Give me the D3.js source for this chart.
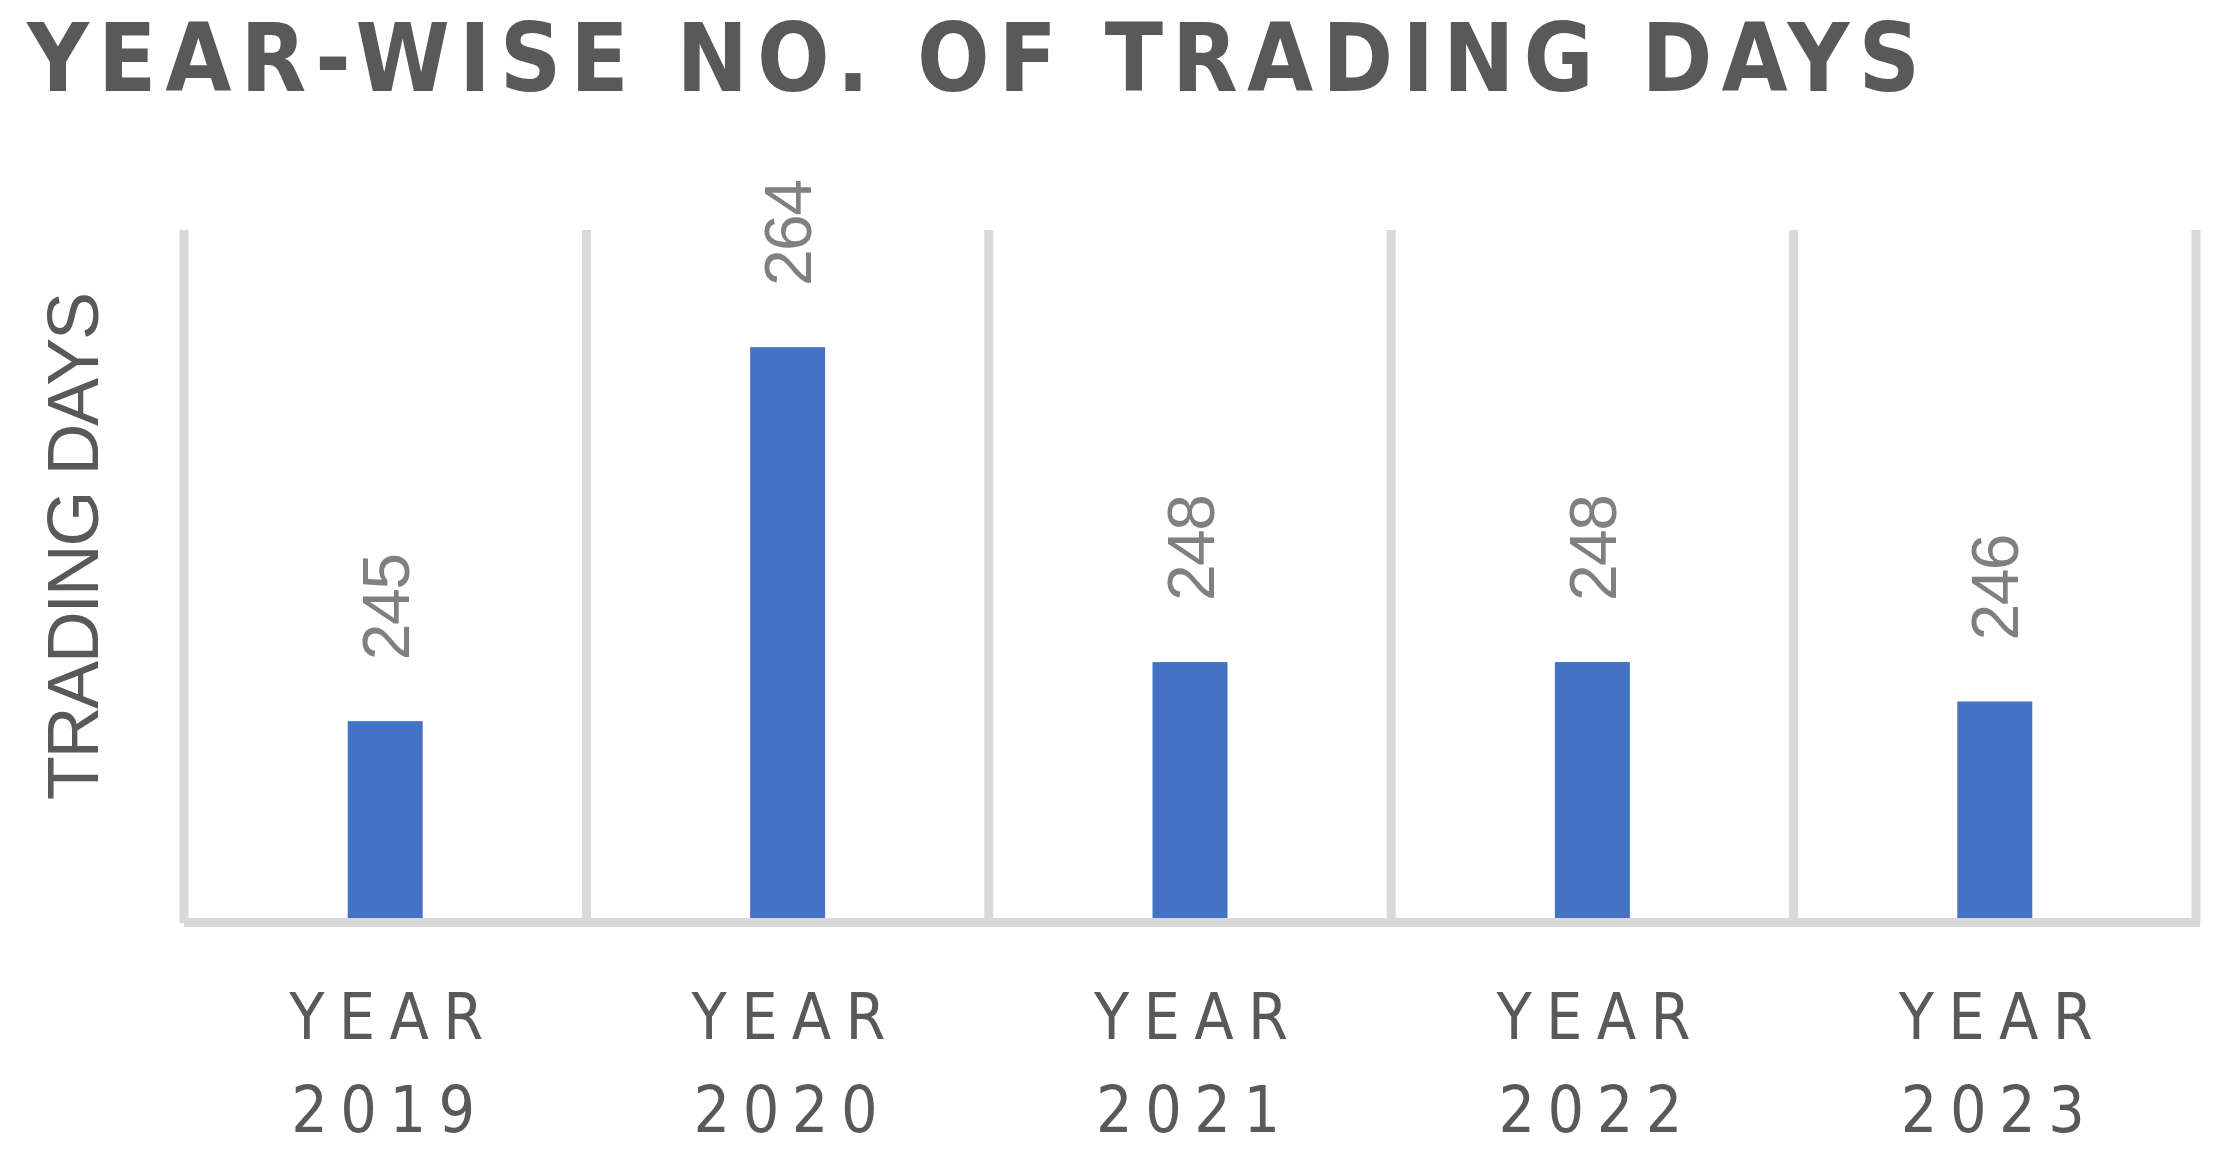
<!DOCTYPE html>
<html>
<head>
<meta charset="utf-8">
<script src="https://cdn.jsdelivr.net/npm/d3@7"></script>
<style>
  body { margin: 0; background: #fff; }
  svg { display: block; }
  .narrow { font-family: 'DejaVu Sans Condensed', 'DejaVu Sans', sans-serif; font-stretch: condensed; }
</style>
</head>
<body>
<script>
//chart data
var years = ["2019", "2020", "2021", "2022", "2023"];
var tradingDays = [245, 264, 248, 248, 246];
var yDomain = [235, 270];

//frame dimensions
var width = 2226,
    height = 1149;

var svg = d3.select("body")
    .append("svg")
    .attr("width", width)
    .attr("height", height);

//category and value scales
var x = d3.scaleBand()
    .domain(years)
    .range([184, 2196]);

var y = d3.scaleLinear()
    .domain(yDomain)
    .range([918, 229]);

var barWidth = 75,
    grey = "#595959",
    gridGrey = "#d9d9d9";

//title
svg.append("text")
    .attr("class", "narrow")
    .attr("x", 27)
    .attr("y", 91)
    .attr("textLength", 1893)
    .attr("lengthAdjust", "spacing")
    .style("font-weight", "bold")
    .style("font-size", "95px")
    .style("fill", grey)
    .text("YEAR-WISE NO. OF TRADING DAYS");

//vertical gridlines on category boundaries
var bounds = years.map(function(d){ return x(d); }).concat([x.range()[1]]);
svg.selectAll(".grid")
    .data(bounds)
    .enter()
    .append("line")
    .attr("class", "grid")
    .attr("x1", function(d){ return d; })
    .attr("x2", function(d){ return d; })
    .attr("y1", y(yDomain[1]) + 1)
    .attr("y2", 923)
    .style("stroke", gridGrey)
    .style("stroke-width", 9);

//bars
svg.selectAll(".bar")
    .data(tradingDays)
    .enter()
    .append("rect")
    .attr("class", "bar")
    .attr("x", function(d, i){ return x(years[i]) + x.bandwidth() / 2 - barWidth / 2; })
    .attr("y", function(d){ return y(d); })
    .attr("width", barWidth)
    .attr("height", function(d){ return y(yDomain[0]) - y(d); })
    .style("fill", "#4472c4");

//category axis line
svg.append("line")
    .attr("x1", x.range()[0])
    .attr("x2", x.range()[1] + 4)
    .attr("y1", 922.5)
    .attr("y2", 922.5)
    .style("stroke", gridGrey)
    .style("stroke-width", 9);

//value labels, rotated
svg.selectAll(".val")
    .data(tradingDays)
    .enter()
    .append("text")
    .attr("class", "val")
    .attr("transform", function(d, i){
        var cx = x(years[i]) + x.bandwidth() / 2 + 23.5;
        return "translate(" + cx + "," + (y(d) - 61) + ") rotate(-90)";
    })
    .attr("textLength", 107)
    .attr("lengthAdjust", "spacing")
    .style("font-family", "'Liberation Sans', sans-serif")
    .style("font-size", "66px")
    .style("fill", "#808080")
    .text(function(d){ return d; });

//category labels, two lines
var cats = svg.selectAll(".cat")
    .data(years)
    .enter()
    .append("g")
    .attr("class", "cat")
    .attr("transform", function(d){ return "translate(" + (x(d) + x.bandwidth() / 2) + ",0)"; });

cats.append("text")
    .attr("class", "narrow")
    .attr("x", -96)
    .attr("y", 1039)
    .attr("textLength", 194)
    .attr("lengthAdjust", "spacing")
    .style("font-size", "64px")
    .style("fill", grey)
    .text("YEAR");

cats.append("text")
    .attr("class", "narrow")
    .attr("x", -94)
    .attr("y", 1132)
    .attr("textLength", 184)
    .attr("lengthAdjust", "spacing")
    .style("font-size", "64px")
    .style("fill", grey)
    .text(function(d){ return d; });

//value axis title
svg.append("text")
    .attr("transform", "translate(98,800) rotate(-90)")
    .attr("textLength", 508)
    .attr("lengthAdjust", "spacing")
    .style("font-family", "'Liberation Sans', sans-serif")
    .style("font-size", "72px")
    .style("fill", grey)
    .text("TRADING DAYS");
</script>
</body>
</html>
